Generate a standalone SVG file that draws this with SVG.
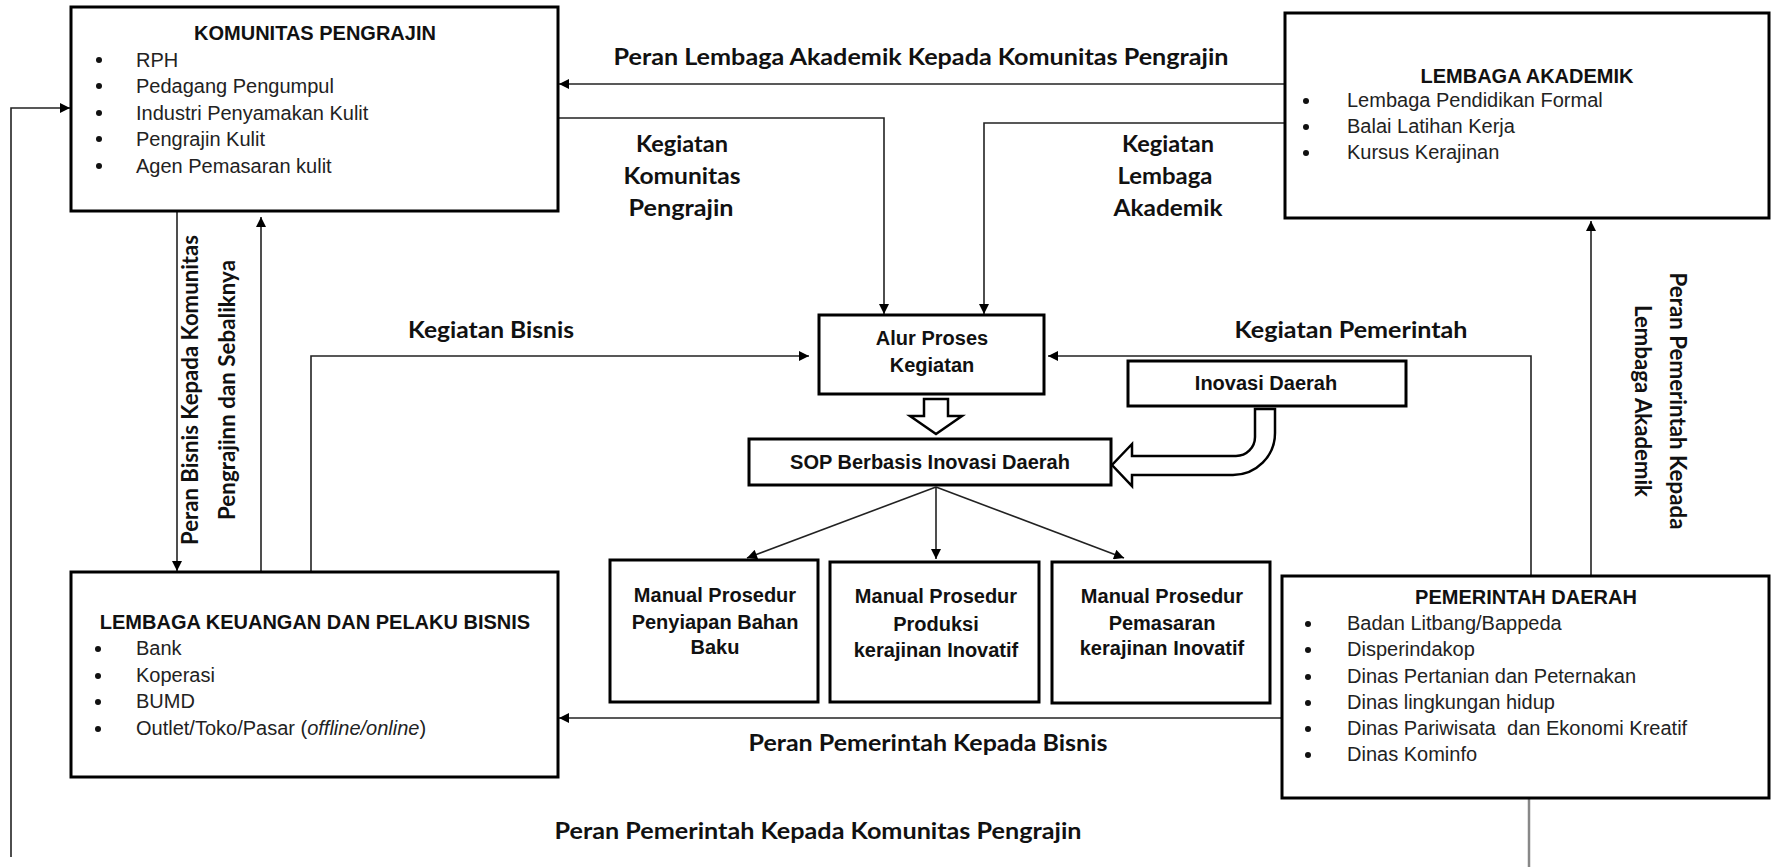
<svg xmlns="http://www.w3.org/2000/svg" width="1771" height="867" viewBox="0 0 1771 867">
<style>
.box{fill:#fff;stroke:#000;stroke-width:3}
.ttl{font-family:"Liberation Sans",Arial,sans-serif;font-weight:bold;font-size:20px;fill:#111;text-anchor:middle}
.itm{font-family:"Liberation Sans",Arial,sans-serif;font-size:20px;fill:#222}
.lbl{font-family:Lato,"Open Sans",sans-serif;font-weight:bold;font-size:22px;fill:#111;text-anchor:middle}
.con{fill:none;stroke:#222;stroke-width:1.6}
.blk{fill:#fff;stroke:#000;stroke-width:2.5;stroke-linejoin:miter}
</style>
<defs>
<marker id="ah" viewBox="0 0 10 10" refX="10" refY="5" markerUnits="userSpaceOnUse" markerWidth="11" markerHeight="10" orient="auto">
<path d="M0,0 L10,5 L0,10 z" fill="#000"/>
</marker>
</defs>
<rect width="1771" height="867" fill="#fff"/>

<g id="connectors">
<path class="con" d="M1285,84 L559,84" marker-end="url(#ah)"/>
<path class="con" d="M558,118 L884,118 L884,314" marker-end="url(#ah)"/>
<path class="con" d="M1285,123 L984,123 L984,314" marker-end="url(#ah)"/>
<path class="con" d="M11,857 L11,108 L70,108" marker-end="url(#ah)"/>
<path class="con" d="M177,212 L177,571" marker-end="url(#ah)"/>
<path class="con" d="M261,572 L261,217" marker-end="url(#ah)"/>
<path class="con" d="M311,572 L311,356 L809,356" marker-end="url(#ah)"/>
<path class="con" d="M1531,576 L1531,356 L1048,356" marker-end="url(#ah)"/>
<path class="con" d="M1591,576 L1591,221" marker-end="url(#ah)"/>
<path class="con" d="M1282,718 L559,718" marker-end="url(#ah)"/>
<path class="con" d="M936,487 L747,558" marker-end="url(#ah)"/>
<path class="con" d="M936,487 L936,559" marker-end="url(#ah)"/>
<path class="con" d="M936,487 L1124,558" marker-end="url(#ah)"/>
<path d="M1529,799 L1529,867" fill="none" stroke="#888" stroke-width="2.5"/>
<path class="blk" d="M924,399 L948,399 L948,416 L962,416 L936,434 L910,416 L924,416 Z"/>
<path class="blk" d="M1255,409 L1255,437 A19,19 0 0 1 1236,456 L1132,456 L1132,444 L1112,465 L1132,486 L1132,475 L1233,475 A42,42 0 0 0 1275,433 L1275,409 Z"/>
</g>

<g id="labels">
<text class="lbl" x="921" y="65" textLength="615" lengthAdjust="spacingAndGlyphs">Peran Lembaga Akademik Kepada Komunitas Pengrajin</text>
<text class="lbl" x="682" y="152" textLength="92" lengthAdjust="spacingAndGlyphs">Kegiatan</text>
<text class="lbl" x="682" y="184" textLength="117" lengthAdjust="spacingAndGlyphs">Komunitas</text>
<text class="lbl" x="681" y="216" textLength="105" lengthAdjust="spacingAndGlyphs">Pengrajin</text>
<text class="lbl" x="1168" y="152" textLength="92" lengthAdjust="spacingAndGlyphs">Kegiatan</text>
<text class="lbl" x="1165" y="184" textLength="95" lengthAdjust="spacingAndGlyphs">Lembaga</text>
<text class="lbl" x="1168" y="216" textLength="109" lengthAdjust="spacingAndGlyphs">Akademik</text>
<text class="lbl" x="491" y="338" textLength="166" lengthAdjust="spacingAndGlyphs">Kegiatan Bisnis</text>
<text class="lbl" x="1351" y="338" textLength="233" lengthAdjust="spacingAndGlyphs">Kegiatan Pemerintah</text>
<text class="lbl" x="928" y="751" textLength="359" lengthAdjust="spacingAndGlyphs">Peran Pemerintah Kepada Bisnis</text>
<text class="lbl" x="818" y="839" textLength="527" lengthAdjust="spacingAndGlyphs">Peran Pemerintah Kepada Komunitas Pengrajin</text>
<text class="lbl" transform="translate(198,390) rotate(-90)" textLength="310" lengthAdjust="spacingAndGlyphs">Peran Bisnis Kepada Komunitas</text>
<text class="lbl" transform="translate(235,390) rotate(-90)" textLength="260" lengthAdjust="spacingAndGlyphs">Pengrajinn dan Sebaliknya</text>
<text class="lbl" transform="translate(1670,401) rotate(90)" textLength="257" lengthAdjust="spacingAndGlyphs">Peran Pemerintah Kepada</text>
<text class="lbl" transform="translate(1635,401) rotate(90)" textLength="192" lengthAdjust="spacingAndGlyphs">Lembaga Akademik</text>
</g>

<g id="komunitas-pengrajin">
<rect class="box" x="71" y="7" width="487" height="204"/>
<text class="ttl" x="315" y="40">KOMUNITAS PENGRAJIN</text>
<g fill="#111"><circle cx="99" cy="60" r="3"/><circle cx="99" cy="86" r="3"/><circle cx="99" cy="113" r="3"/><circle cx="99" cy="139" r="3"/><circle cx="99" cy="166" r="3"/></g>
<text class="itm" x="136" y="67">RPH</text>
<text class="itm" x="136" y="93">Pedagang Pengumpul</text>
<text class="itm" x="136" y="120">Industri Penyamakan Kulit</text>
<text class="itm" x="136" y="146">Pengrajin Kulit</text>
<text class="itm" x="136" y="173">Agen Pemasaran kulit</text>
</g>

<g id="lembaga-akademik">
<rect class="box" x="1285" y="13" width="484" height="205"/>
<text class="ttl" x="1527" y="83">LEMBAGA AKADEMIK</text>
<g fill="#111"><circle cx="1306" cy="101" r="3"/><circle cx="1306" cy="127" r="3"/><circle cx="1306" cy="153" r="3"/></g>
<text class="itm" x="1347" y="107">Lembaga Pendidikan Formal</text>
<text class="itm" x="1347" y="133">Balai Latihan Kerja</text>
<text class="itm" x="1347" y="159">Kursus Kerajinan</text>
</g>

<g id="lembaga-keuangan">
<rect class="box" x="71" y="572" width="487" height="205"/>
<text class="ttl" x="315" y="629">LEMBAGA KEUANGAN DAN PELAKU BISNIS</text>
<g fill="#111"><circle cx="98" cy="649" r="3"/><circle cx="98" cy="676" r="3"/><circle cx="98" cy="702" r="3"/><circle cx="98" cy="729" r="3"/></g>
<text class="itm" x="136" y="655">Bank</text>
<text class="itm" x="136" y="682">Koperasi</text>
<text class="itm" x="136" y="708">BUMD</text>
<text class="itm" x="136" y="735">Outlet/Toko/Pasar (<tspan font-style="italic">offline/online</tspan>)</text>
</g>

<g id="pemerintah-daerah">
<rect class="box" x="1282" y="576" width="487" height="222"/>
<text class="ttl" x="1526" y="604">PEMERINTAH DAERAH</text>
<g fill="#111"><circle cx="1308" cy="624" r="3"/><circle cx="1308" cy="650" r="3"/><circle cx="1308" cy="677" r="3"/><circle cx="1308" cy="703" r="3"/><circle cx="1308" cy="729" r="3"/><circle cx="1308" cy="755" r="3"/></g>
<text class="itm" x="1347" y="630">Badan Litbang/Bappeda</text>
<text class="itm" x="1347" y="656">Disperindakop</text>
<text class="itm" x="1347" y="683">Dinas Pertanian dan Peternakan</text>
<text class="itm" x="1347" y="709">Dinas lingkungan hidup</text>
<text class="itm" x="1347" y="735" style="white-space:pre">Dinas Pariwisata  dan Ekonomi Kreatif</text>
<text class="itm" x="1347" y="761">Dinas Kominfo</text>
</g>

<g id="alur-proses">
<rect class="box" x="819" y="315" width="225" height="79"/>
<text class="ttl" x="932" y="345">Alur Proses</text>
<text class="ttl" x="932" y="372">Kegiatan</text>
</g>

<g id="inovasi-daerah">
<rect class="box" x="1128" y="361" width="278" height="45"/>
<text class="ttl" x="1266" y="390">Inovasi Daerah</text>
</g>

<g id="sop">
<rect class="box" x="749" y="439" width="362" height="46"/>
<text class="ttl" x="930" y="469">SOP Berbasis Inovasi Daerah</text>
</g>

<g id="manual-bahan-baku">
<rect class="box" x="610" y="560" width="208" height="142"/>
<text class="ttl" x="715" y="602">Manual Prosedur</text>
<text class="ttl" x="715" y="629">Penyiapan Bahan</text>
<text class="ttl" x="715" y="654">Baku</text>
</g>

<g id="manual-produksi">
<rect class="box" x="830" y="562" width="209" height="140"/>
<text class="ttl" x="936" y="603">Manual Prosedur</text>
<text class="ttl" x="936" y="631">Produksi</text>
<text class="ttl" x="936" y="657">kerajinan Inovatif</text>
</g>

<g id="manual-pemasaran">
<rect class="box" x="1052" y="562" width="218" height="141"/>
<text class="ttl" x="1162" y="603">Manual Prosedur</text>
<text class="ttl" x="1162" y="630">Pemasaran</text>
<text class="ttl" x="1162" y="655">kerajinan Inovatif</text>
</g>
</svg>
